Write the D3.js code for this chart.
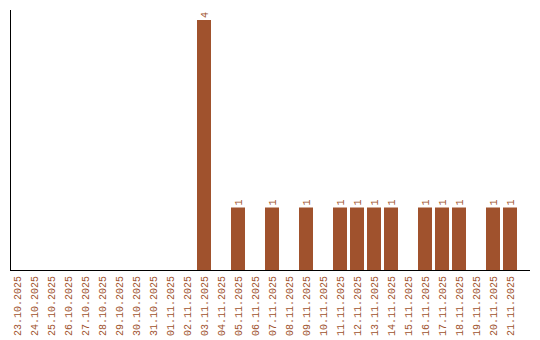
<!DOCTYPE html>
<html><head><meta charset="utf-8">
<script src="https://cdn.jsdelivr.net/npm/d3@7"></script>
<style>body{margin:0;background:#fff}svg{display:block}text{font-family:"Liberation Mono",monospace;font-size:10px;fill:#a0522d}</style>
</head><body><svg id="c" width="540" height="340"></svg>
<script>
const dates = ["23.10.2025","24.10.2025","25.10.2025","26.10.2025","27.10.2025","28.10.2025","29.10.2025","30.10.2025","31.10.2025","01.11.2025","02.11.2025","03.11.2025","04.11.2025","05.11.2025","06.11.2025","07.11.2025","08.11.2025","09.11.2025","10.11.2025","11.11.2025","12.11.2025","13.11.2025","14.11.2025","15.11.2025","16.11.2025","17.11.2025","18.11.2025","19.11.2025","20.11.2025","21.11.2025"];
const counts = [0,0,0,0,0,0,0,0,0,0,0,4,0,1,0,1,0,1,0,1,1,1,1,0,1,1,1,0,1,1];

const svg = d3.select("#c");
const x = d3.scaleBand().domain(dates).range([10, 517]).paddingInner(3/17).paddingOuter(0);
const y = d3.scaleLinear().domain([0, 4]).range([270, 20]);
const data = dates.map((d, i) => ({d, v: counts[i]}));

svg.selectAll("rect.bar").data(data.filter(e => e.v > 0)).enter().append("rect")
  .attr("x", e => x(e.d)).attr("width", x.bandwidth())
  .attr("y", e => y(e.v)).attr("height", e => y(0) - y(e.v))
  .attr("fill", "#a0522d");

svg.selectAll("text.val").data(data.filter(e => e.v > 0)).enter().append("text")
  .attr("transform", e => `translate(${x(e.d) + x.bandwidth()/2 + 3.5},${y(e.v) - 2}) rotate(-90)`)
  .text(e => e.v);

svg.selectAll("text.lab").data(data).enter().append("text")
  .attr("text-anchor", "end")
  .attr("transform", e => `translate(${x(e.d) + x.bandwidth()/2 + 3.5},276) rotate(-90)`)
  .text(e => e.d);

svg.append("line").attr("x1", 10.5).attr("x2", 10.5).attr("y1", 10).attr("y2", 270.5).attr("stroke", "#000");
svg.append("line").attr("x1", 10).attr("x2", 530).attr("y1", 270.5).attr("y2", 270.5).attr("stroke", "#000");
</script></body></html>
